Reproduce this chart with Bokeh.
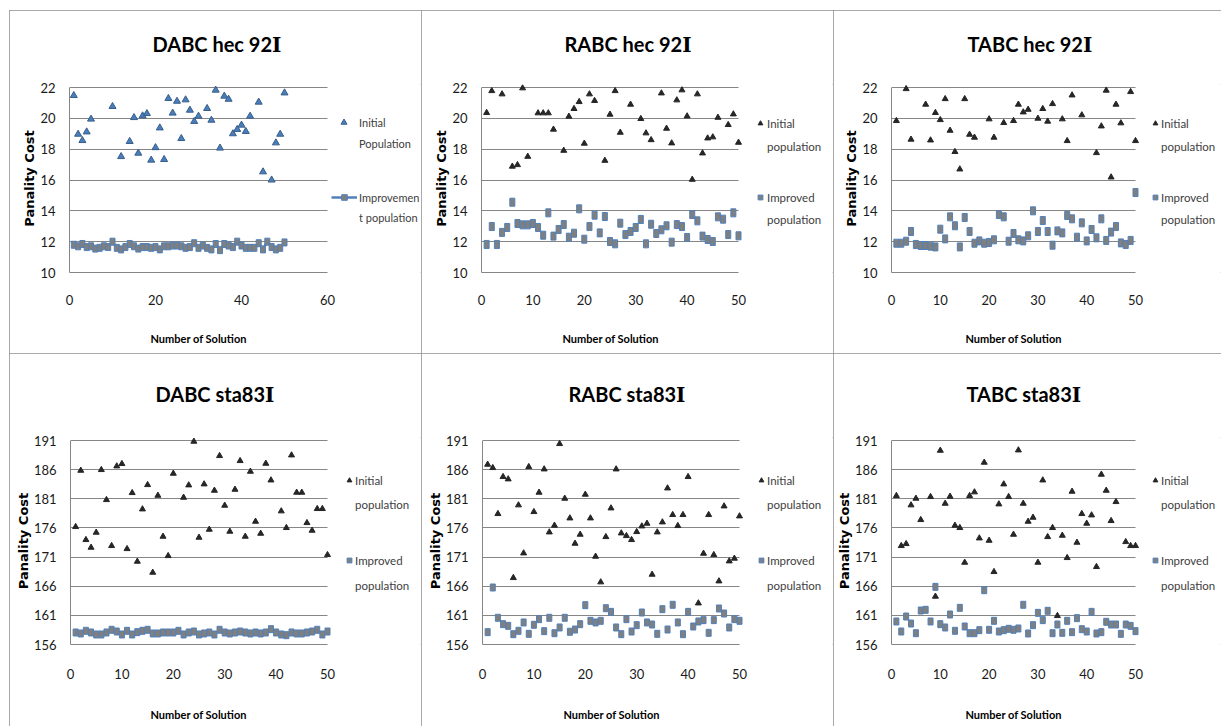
from bokeh.plotting import figure
from bokeh.layouts import column, row
from bokeh.models import FixedTicker, Legend, LegendItem, Range1d, Spacer, Title
from bokeh.embed import file_html
from bokeh.resources import INLINE

# ---------------- data ----------------
solution = list(range(1, 51))

dabc_hec_init_x = [1, 2, 3, 4, 5, 10, 12, 14, 15, 16, 17, 18, 19, 20, 21, 22, 23, 24, 25, 26, 27, 28,
                   29, 30, 32, 33, 34, 35, 36, 37, 38, 39, 40, 41, 42, 44, 45, 47, 48, 49, 50]
dabc_hec_init_y = [21.48, 18.97, 18.56, 19.12, 19.95, 20.77, 17.52, 18.5, 20.05, 17.74, 20.16, 20.31,
                   17.29, 18.1, 19.38, 17.33, 21.29, 20.34, 21.11, 18.69, 21.2, 20.53, 19.8, 20.14,
                   20.64, 19.88, 21.83, 18.07, 21.44, 21.24, 19.0, 19.28, 19.56, 19.15, 20.14, 21.05,
                   16.53, 16.0, 18.41, 18.97, 21.65]
dabc_hec_impr_y = [11.8, 11.7, 11.85, 11.65, 11.7, 11.55, 11.6, 11.7, 11.65, 12.0,
                   11.6, 11.5, 11.65, 11.85, 11.7, 11.55, 11.65, 11.65, 11.6, 11.65,
                   11.5, 11.7, 11.7, 11.75, 11.75, 11.7, 11.6, 11.65, 11.9, 11.6,
                   11.75, 11.6, 11.5, 11.85, 11.45, 11.85, 11.75, 11.65, 12.0, 11.75,
                   11.6, 11.6, 11.6, 11.9, 11.5, 12.0, 11.65, 11.5, 11.6, 11.95]

rabc_hec_init_x = [1, 2, 4, 6, 7, 8, 9, 11, 12, 13, 14, 16, 17, 18, 19, 20, 21, 22, 24, 25, 26, 27,
                   29, 31, 32, 33, 35, 36, 37, 38, 39, 40, 41, 42, 43, 44, 45, 46, 48, 49, 50]
rabc_hec_init_y = [20.36, 21.78, 21.57, 16.88, 16.98, 21.96, 17.52, 20.34, 20.34, 20.34, 19.28, 17.91,
                   20.12, 20.62, 21.07, 18.37, 21.57, 21.14, 17.26, 20.25, 21.78, 19.08, 20.9, 19.97,
                   19.04, 18.6, 21.63, 19.34, 18.39, 21.18, 21.83, 20.14, 16.03, 21.57, 17.74, 18.71,
                   18.78, 20.05, 19.58, 20.27, 18.43]
rabc_hec_impr_y = [11.82, 12.98, 11.82, 12.6, 12.92, 14.56, 13.18, 13.09, 13.09, 13.18,
                   12.92, 12.42, 13.87, 12.36, 12.79, 13.11, 12.29, 12.55, 14.13, 12.16,
                   12.98, 13.72, 12.57, 13.63, 12.01, 11.86, 13.2, 12.46, 12.66, 12.92,
                   13.44, 11.86, 13.13, 12.53, 12.77, 13.03, 11.97, 13.11, 12.98, 12.27,
                   13.76, 13.35, 12.36, 12.14, 12.01, 13.61, 13.46, 12.46, 13.87, 12.38]

tabc_hec_init_x = [1, 3, 4, 7, 8, 9, 10, 11, 12, 13, 14, 15, 16, 17, 20, 21, 23, 25, 26, 27, 28, 30,
                   31, 32, 33, 35, 36, 37, 39, 42, 43, 44, 45, 46, 47, 49, 50]
tabc_hec_init_y = [19.84, 21.91, 18.63, 20.9, 18.58, 20.36, 19.9, 21.26, 19.21, 17.83, 16.7, 21.26,
                   18.95, 18.76, 19.95, 18.76, 19.71, 19.84, 20.9, 20.4, 20.57, 19.99, 20.62, 19.8,
                   20.94, 19.95, 18.54, 21.5, 20.21, 17.76, 19.49, 21.81, 16.18, 20.9, 19.69, 21.72,
                   18.54]
tabc_hec_impr_y = [11.9, 11.9, 12.03, 12.66, 11.82, 11.75, 11.75, 11.71, 11.66, 12.81,
                   12.18, 13.61, 13.03, 11.66, 13.57, 12.66, 11.9, 12.05, 11.9, 11.95,
                   12.12, 13.76, 13.61, 12.03, 12.53, 12.12, 12.05, 12.38, 14.0, 12.66,
                   13.37, 12.66, 11.77, 12.7, 12.57, 13.7, 13.48, 12.29, 13.22, 12.05,
                   12.79, 12.25, 13.48, 12.08, 12.62, 12.98, 11.92, 11.82, 12.08, 15.19]

dabc_sta_init_x = [1, 2, 3, 4, 5, 6, 7, 8, 9, 10, 11, 12, 13, 14, 15, 16, 17, 18, 19, 20,
                   22, 23, 24, 25, 26, 27, 28, 29, 30, 31, 32, 33, 34, 35, 36, 37, 38, 39,
                   41, 42, 43, 44, 45, 46, 47, 48, 49, 50]
dabc_sta_init_y = [176.19, 185.85, 173.96, 172.64, 175.22, 185.97, 180.82, 172.93, 186.6, 187.0,
                   172.41, 182.02, 170.24, 179.22, 183.39, 168.35, 181.56, 174.53, 171.21, 185.34,
                   181.22, 183.34, 190.83, 174.36, 183.51, 175.73, 182.42, 188.37, 179.85, 175.39,
                   182.59, 187.51, 174.53, 185.68, 177.1, 175.04, 187.05, 184.19,
                   178.88, 176.02, 188.48, 182.08, 182.08, 176.87, 175.56, 179.28, 179.28, 171.38]
dabc_sta_impr_y = [158.06, 157.89, 158.35, 158.06, 157.72, 157.72, 158.06, 158.52, 158.23, 157.72,
                   158.35, 157.72, 158.12, 158.35, 158.52, 157.89, 157.89, 158.06, 158.06, 158.06,
                   158.35, 157.72, 158.06, 158.23, 157.72, 157.89, 158.06, 157.72, 158.52, 158.06,
                   157.89, 158.06, 158.23, 158.06, 157.89, 158.06, 157.89, 158.06, 158.63, 158.06,
                   157.72, 157.6, 158.06, 157.89, 157.89, 158.06, 158.23, 158.52, 157.72, 158.23]

rabc_sta_init_x = [1, 2, 3, 4, 5, 6, 7, 8, 9, 10, 11, 12, 13, 14, 15, 16, 17, 18, 19, 20,
                   21, 22, 23, 24, 25, 26, 27, 28, 29, 30, 31, 32, 33, 34, 35, 36, 37, 38, 39, 40,
                   42, 43, 44, 45, 46, 47, 48, 49, 50]
rabc_sta_init_y = [186.88, 186.31, 178.42, 184.77, 184.37, 167.44, 179.91, 171.67, 186.48, 178.76,
                   182.08, 186.08, 175.27, 176.42, 190.43, 181.05, 177.67, 173.33, 174.87, 181.74,
                   177.67, 171.1, 166.7, 174.47, 179.39, 186.08, 175.1, 174.64, 173.96, 175.33,
                   176.3, 176.76, 168.01, 175.27, 176.99, 182.82, 178.25, 176.36, 178.25, 184.77,
                   163.09, 171.61, 178.25, 171.38, 166.87, 179.73, 170.3, 170.76, 178.02]
rabc_sta_impr_y = [158.12, 165.78, 160.58, 159.49, 159.2, 157.77, 158.35, 159.78, 157.83, 159.38,
                   160.35, 158.29, 160.58, 157.94, 158.92, 160.58, 158.18, 158.57, 159.49, 162.75,
                   160.06, 159.78, 160.06, 162.23, 161.6, 158.92, 157.77, 160.35, 158.23, 159.32,
                   161.49, 159.78, 159.43, 157.83, 162.06, 158.57, 162.81, 159.78, 157.77, 161.6,
                   159.09, 159.95, 160.18, 158.0, 160.18, 162.18, 161.32, 158.92, 160.35, 160.06]

tabc_sta_init_x = [1, 2, 3, 4, 5, 6, 8, 9, 10, 11, 12, 13, 14, 15, 16, 17, 18, 19, 20, 21, 22, 23,
                   24, 25, 26, 27, 28, 29, 30, 31, 32, 33, 34, 35, 36, 37, 38, 39, 40, 41, 42, 43,
                   44, 45, 46, 48, 49, 50]
tabc_sta_init_y = [181.51, 172.93, 173.27, 179.91, 181.05, 177.39, 181.34, 164.24, 189.28, 180.19,
                   181.39, 176.42, 176.02, 170.07, 181.51, 182.14, 174.24, 187.23, 173.84, 168.47,
                   180.08, 183.51, 181.34, 174.87, 189.34, 180.19, 177.1, 177.79, 170.07, 184.19,
                   174.47, 176.02, 160.92, 174.7, 170.87, 182.25, 173.5, 178.42, 176.76, 178.19,
                   169.33, 185.17, 182.42, 177.22, 180.48, 173.61, 172.93, 172.93]
tabc_sta_impr_y = [159.95, 158.23, 160.8, 159.6, 157.94, 161.83, 161.95, 159.95, 165.89, 159.49,
                   158.92, 161.15, 158.35, 162.29, 159.09, 157.94, 157.94, 158.46, 165.32, 158.52,
                   160.06, 158.23, 158.46, 158.69, 158.52, 158.75, 162.81, 157.89, 159.32, 161.43,
                   160.18, 161.78, 157.94, 159.43, 158.0, 160.06, 158.12, 160.52, 158.63, 158.23,
                   161.6, 157.89, 158.12, 159.89, 159.43, 159.43, 157.83, 159.43, 159.2, 158.29]

hec_y_ticks = [10, 12, 14, 16, 18, 20, 22]
sta_y_ticks = [156, 161, 166, 171, 176, 181, 186, 191]
x_ticks_60 = [0, 20, 40, 60]
x_ticks_50 = [0, 10, 20, 30, 40, 50]

titles = ["DABC hec 92\u2160", "RABC hec 92\u2160", "TABC hec 92\u2160",
          "DABC sta83\u2160", "RABC sta83\u2160", "TABC sta83\u2160"]
legend_labels_first = [["Initial", "Population"], ["Improvemen", "t population"]]
legend_labels = [["Initial", "population"], ["Improved", "population"]]
x_label = "Number of Solution"
y_label = "Panality Cost"

# ---------------- style ----------------
FONT = "Lato"
TITLE_FONT = "Lato, 'DejaVu Serif'"
GRID = "#868686"
BLUE = "#4f81bd"
SQ_FILL = "#7f7f7f"
TRI_DARK = "#262626"
ITEM_H = 18
PAD = 3   # px above the plot area so markers on the top gridline are not cut
NAN = float("nan")   # legend-only swatch: a point that is never drawn in the plot


def make_legend(pw, fh, items, left, first_center, pitch, gw, gh, standoff, fsize):
    n = len(items)
    H = n * ITEM_H + (n - 1) * (pitch - ITEM_H)
    top = first_center - ITEM_H / 2
    vy = fh - top - H
    return Legend(items=items, location=(pw + left, vy), padding=0, margin=0,
                  spacing=pitch - ITEM_H, glyph_width=gw, glyph_height=gh,
                  label_height=ITEM_H, label_width=10, label_standoff=standoff,
                  label_text_font=FONT, label_text_font_size=fsize,
                  label_text_color="#404040", border_line_color=None,
                  background_fill_alpha=0)


def make_panel(title, init_x, init_y, impr_y, yticks, xticks, w, h, bl, pw, bt, bb,
               title_offset, title_gap, tick_standoff, xlabel_gap, xlabel_offset, first, leg):
    fw = w - bl                       # frame runs to the right edge; plot area is pw wide
    fh = h - bt - bb                  # plot-area height
    y0, y1 = yticks[0], yticks[-1]
    x0, x1 = xticks[0], xticks[-1]
    y_end = y1 + (y1 - y0) * PAD / fh
    x_end = x1 * fw / pw
    p = figure(width=w, height=h, x_range=Range1d(x0, x_end), y_range=Range1d(y0, y_end),
               output_backend="svg", toolbar_location=None, tools="",
               min_border_left=bl, min_border_right=0, min_border_top=bt - PAD,
               min_border_bottom=bb, background_fill_color="white",
               border_fill_color="white", outline_line_color=None,
               styles={"outline": "1px solid #8c8c8c", "outline-offset": "-1px"})
    p.title.text = title
    p.title.text_font = TITLE_FONT
    p.title.text_font_size = "20px"
    p.title.text_font_style = "bold"
    p.title.text_color = "black"
    p.title.align = "left"
    p.title.offset = title_offset
    p.title.standoff = 4
    p.add_layout(Title(text=" ", text_font_size="2px", standoff=title_gap), "above")

    p.xaxis.ticker = FixedTicker(ticks=xticks)
    p.yaxis.ticker = FixedTicker(ticks=yticks)
    p.xaxis.bounds = (x0, x1)
    p.yaxis.bounds = (y0, y1)
    for ax in (p.xaxis[0], p.yaxis[0]):
        ax.axis_line_color = GRID
        ax.major_tick_line_color = None
        ax.minor_tick_line_color = None
        ax.major_label_text_font = FONT
        ax.major_label_text_font_size = "13px"
        ax.major_label_text_color = "#1a1a1a"
    p.xaxis.major_label_standoff = tick_standoff
    p.yaxis.major_label_standoff = 8
    p.yaxis.axis_label = y_label
    p.yaxis.axis_label_text_font = "DejaVu Sans"
    p.yaxis.axis_label_text_font_size = "13px"
    p.yaxis.axis_label_text_font_style = "bold"
    p.yaxis.axis_label_text_color = "black"
    p.yaxis.axis_label_standoff = 0
    # x-axis title, centred under the plot area (not under the whole frame)
    p.add_layout(Title(text=" ", text_font_size="2px", standoff=xlabel_gap), "below")
    p.add_layout(Title(text=x_label, text_font=FONT, text_font_size="11px",
                       text_font_style="bold", text_color="black", align="left",
                       offset=xlabel_offset, standoff=4), "below")

    p.xgrid.visible = False
    g = p.ygrid[0]
    if "cross_bounds" in g.properties():
        g.grid_line_color = GRID
        g.cross_bounds = (x0, x1)
    else:
        g.visible = False
        p.segment(x0=[x0] * len(yticks), x1=[x1] * len(yticks), y0=yticks, y1=yticks,
                  line_color=GRID, line_width=1)

    blank1 = p.scatter([], [], fill_alpha=0, line_alpha=0)
    blank2 = p.scatter([], [], fill_alpha=0, line_alpha=0)
    sq = p.scatter([NAN], [NAN], marker="square", size=6, fill_color=SQ_FILL,
                   line_color=BLUE, line_width=1)
    if first:
        tri = p.scatter(init_x, init_y, marker="triangle", size=7,
                        fill_color="#4a7ebb", line_color="#385d8a", line_width=1)
        ln = p.line(solution, impr_y, line_color=BLUE, line_width=2.5)
        p.rect(solution, impr_y, width=5, height=7, width_units="screen",
               height_units="screen", fill_color=SQ_FILL, line_color=BLUE, line_width=1)
        la, lb = legend_labels_first
        p.add_layout(make_legend(pw, fh, [LegendItem(label=la[0], renderers=[tri]),
                                          LegendItem(label=la[1], renderers=[blank1])],
                                 9, leg[0], leg[1], 15, 18, 8, "11px"))
        p.add_layout(make_legend(pw, fh, [LegendItem(label=lb[0], renderers=[ln, sq]),
                                          LegendItem(label=lb[1], renderers=[blank2])],
                                 4, leg[2], leg[3], 26, 14, 2, "11px"))
    else:
        tri = p.scatter(init_x, init_y, marker="triangle", size=6,
                        fill_color=TRI_DARK, line_color=TRI_DARK, line_width=1)
        p.rect(solution, impr_y, width=5, height=8 if h < 360 else 7, width_units="screen",
               height_units="screen", fill_color=SQ_FILL, line_color=BLUE, line_width=1)
        la, lb = legend_labels
        left, stand = leg[4], leg[5]
        p.add_layout(make_legend(pw, fh, [LegendItem(label=la[0], renderers=[tri]),
                                          LegendItem(label=la[1], renderers=[blank1])],
                                 left, leg[0], leg[1], 12, 18, stand, "11.5px"))
        p.add_layout(make_legend(pw, fh, [LegendItem(label=lb[0], renderers=[sq]),
                                          LegendItem(label=lb[1], renderers=[blank2])],
                                 left, leg[2], leg[3], 12, 18, stand, "11.5px"))
    return p


TOP_H, BOT_H = 343, 373

p1 = make_panel(titles[0], dabc_hec_init_x, dabc_hec_init_y, dabc_hec_impr_y, hec_y_ticks,
                x_ticks_60, 412, TOP_H, 60, 258, 77, 81, 83, 23, 16, 16, 81, True,
                (35, 21, 110, 20))
p2 = make_panel(titles[1], rabc_hec_init_x, rabc_hec_init_y, rabc_hec_impr_y, hec_y_ticks,
                x_ticks_50, 412, TOP_H, 60, 257, 77, 81, 83, 23, 16, 16, 81, False,
                (36, 23, 110, 22, 16, 1))
p3 = make_panel(titles[2], tabc_hec_init_x, tabc_hec_init_y, tabc_hec_impr_y, hec_y_ticks,
                x_ticks_50, 388, TOP_H, 58, 244, 77, 81, 76, 23, 16, 16, 74, False,
                (36, 23, 110, 22, 14, 0))
p4 = make_panel(titles[3], dabc_sta_init_x, dabc_sta_init_y, dabc_sta_impr_y, sta_y_ticks,
                x_ticks_50, 412, BOT_H, 61, 257, 87, 82, 85, 26, 18, 18, 80, False,
                (40, 24, 120, 25, 16, 0))
p5 = make_panel(titles[4], rabc_sta_init_x, rabc_sta_init_y, rabc_sta_impr_y, sta_y_ticks,
                x_ticks_50, 412, BOT_H, 61, 257, 87, 82, 86, 26, 18, 18, 81, False,
                (40, 24, 120, 25, 16, 0))
p6 = make_panel(titles[5], tabc_sta_init_x, tabc_sta_init_y, tabc_sta_impr_y, sta_y_ticks,
                x_ticks_50, 388, BOT_H, 58, 244, 87, 82, 75, 26, 18, 18, 74, False,
                (40, 24, 120, 25, 14, 0))

layout = column(Spacer(height=10),
                row(Spacer(width=9), p1, p2, p3, spacing=0),
                row(Spacer(width=9), p4, p5, p6, spacing=0),
                spacing=0)

open("out.html", "w").write(file_html(layout, INLINE))
